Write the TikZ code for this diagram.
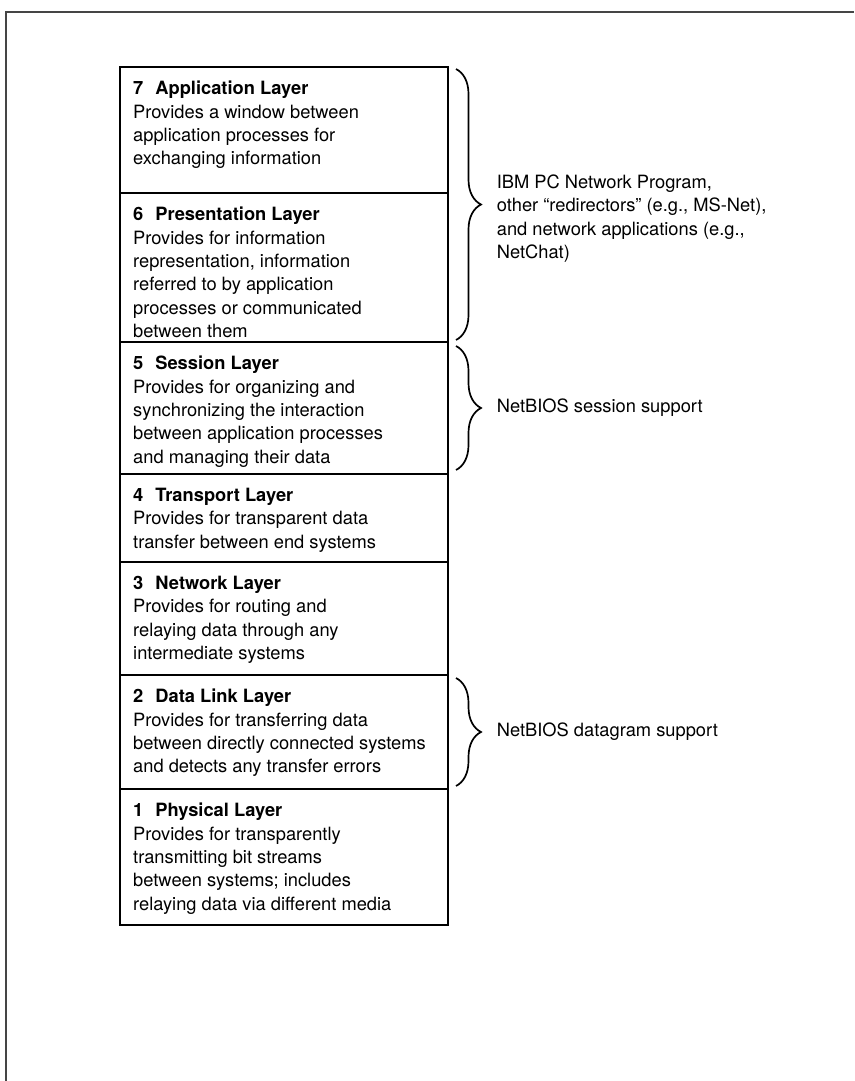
\documentclass[tikz,border=0pt]{standalone}
\usepackage{fontspec}
\setmainfont{TeX Gyre Heros}
\usetikzlibrary{positioning,decorations.pathreplacing}

\definecolor{rule}{HTML}{454545}

\tikzset{
  layer/.style={draw, line width=1.7pt, minimum width=328pt, minimum height=#1,
    inner sep=0pt, outer sep=0pt},
  layertext/.style={anchor=north west, align=left, inner sep=0pt,
    font=\fontsize{18.3}{23.3}\selectfont},
  grp/.style={decorate, decoration={brace, amplitude=25pt}, line width=1.7pt},
  grptext/.style={anchor=west, align=left, inner sep=0pt, xshift=40pt,
    font=\fontsize{18.3}{23.3}\selectfont}
}
\newcommand{\lname}[2]{\textbf{#1}\hspace{12pt}\textbf{#2}}

\begin{document}
\begin{tikzpicture}[x=1pt, y=-1pt]
\useasboundingbox (0,0) rectangle (854,1081);

% page rule
\draw[rule, line width=1.6pt] (6,1081) -- (6,12) -- (854,12);

% the seven layers
\node[layer=126pt, anchor=north] (l7) at (284,67) {};
\node[layer=149pt, below=0pt of l7] (l6) {};
\node[layer=132pt, below=0pt of l6] (l5) {};
\node[layer=88pt, below=0pt of l5] (l4) {};
\node[layer=113pt, below=0pt of l4] (l3) {};
\node[layer=114pt, below=0pt of l3] (l2) {};
\node[layer=136pt, below=0pt of l2] (l1) {};

\node[layertext] (t7) at ([xshift=13pt,yshift=-14pt]l7.north west)
  {\lname{7}{Application Layer}\\Provides a window between\\application processes for\\exchanging information};
\node[layertext] (t6) at ([xshift=13pt,yshift=-14pt]l6.north west)
  {\lname{6}{Presentation Layer}\\Provides for information\\representation, information\\referred to by application\\processes or communicated\\between them};
\node[layertext] (t5) at ([xshift=13pt,yshift=-14pt]l5.north west)
  {\lname{5}{Session Layer}\\Provides for organizing and\\synchronizing the interaction\\between application processes\\and managing their data};
\node[layertext] (t4) at ([xshift=13pt,yshift=-14pt]l4.north west)
  {\lname{4}{Transport Layer}\\Provides for transparent data\\transfer between end systems};
\node[layertext] (t3) at ([xshift=13pt,yshift=-14pt]l3.north west)
  {\lname{3}{Network Layer}\\Provides for routing and\\relaying data through any\\intermediate systems};
\node[layertext] (t2) at ([xshift=13pt,yshift=-14pt]l2.north west)
  {\lname{2}{Data Link Layer}\\Provides for transferring data\\between directly connected systems\\and detects any transfer errors};
\node[layertext] (t1) at ([xshift=13pt,yshift=-14pt]l1.north west)
  {\lname{1}{Physical Layer}\\Provides for transparently\\transmitting bit streams\\between systems; includes\\relaying data via different media};

% braces for the NetBIOS mapping
\coordinate (g1a) at ([xshift=8pt,yshift=-2pt]l7.north east);
\coordinate (g1b) at ([xshift=8pt,yshift=2pt]l6.south east);
\coordinate (g2a) at ([xshift=8pt,yshift=-4pt]l5.north east);
\coordinate (g2b) at ([xshift=8pt,yshift=4pt]l5.south east);
\coordinate (g3a) at ([xshift=8pt,yshift=-3pt]l2.north east);
\coordinate (g3b) at ([xshift=8pt,yshift=3pt]l2.south east);

\draw[grp] (g1a) -- node[midway, grptext, yshift=-14pt] (prog)
  {IBM PC Network Program,\\other “redirectors” (e.g., MS-Net),\\and network applications (e.g.,\\NetChat)} (g1b);
\draw[grp] (g2a) -- node[midway, grptext] (sess) {NetBIOS session support} (g2b);
\draw[grp] (g3a) -- node[midway, grptext] (dgram) {NetBIOS datagram support} (g3b);
\end{tikzpicture}
\end{document}
